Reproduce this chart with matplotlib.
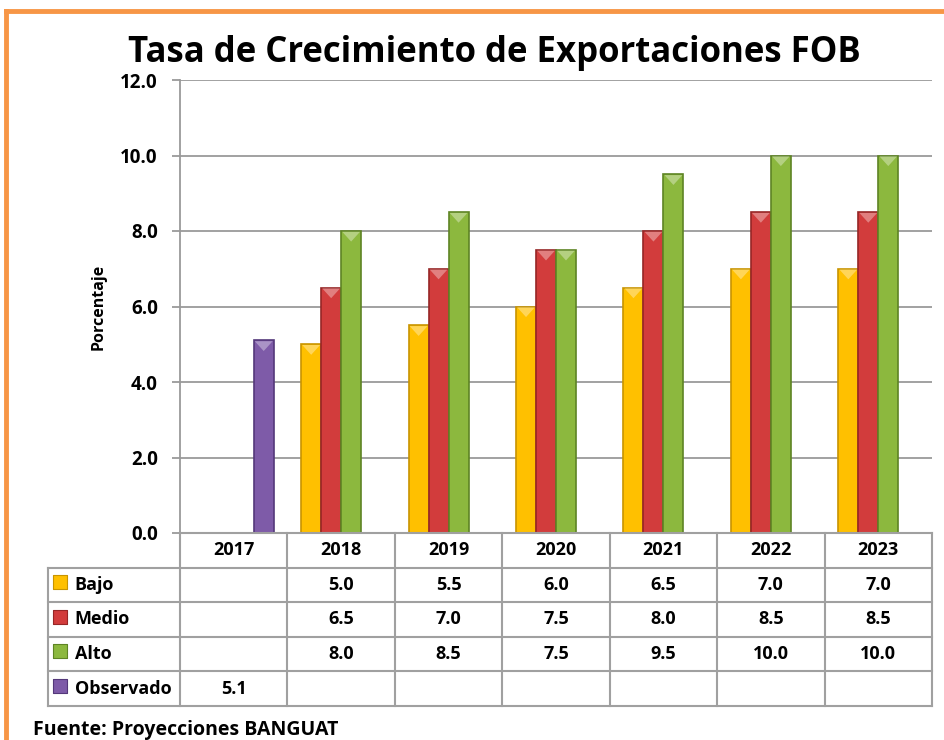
import numpy as np
import matplotlib.pyplot as plt
from matplotlib.lines import Line2D

plt.rcParams['font.family'] = ['Open Sans', 'DejaVu Sans']
plt.rcParams['font.weight'] = 'bold'

years = ["2017", "2018", "2019", "2020", "2021", "2022", "2023"]
series_names = ["Bajo", "Medio", "Alto", "Observado"]
bajo = [np.nan, 5.0, 5.5, 6.0, 6.5, 7.0, 7.0]
medio = [np.nan, 6.5, 7.0, 7.5, 8.0, 8.5, 8.5]
alto = [np.nan, 8.0, 8.5, 7.5, 9.5, 10.0, 10.0]
observado = [5.1, np.nan, np.nan, np.nan, np.nan, np.nan, np.nan]
series = [bajo, medio, alto, observado]
colors = ["#FFC000", "#D23C3C", "#8CB83E", "#7E5BA8"]
edges = ["#C89400", "#962626", "#5E8424", "#54387A"]

W, H = 944, 740
fig = plt.figure(figsize=(W / 100, H / 100), dpi=100)

# orange frame
fig.add_artist(Line2D([6 / W, 6 / W], [0, 1 - 11 / H], color="#F79646", lw=3.5))
fig.add_artist(Line2D([6 / W, 1], [1 - 11 / H, 1 - 11 / H], color="#F79646", lw=3.5))

x0, x1 = 180, 932
yt, yb = 80, 533
ax = fig.add_axes([x0 / W, 1 - yb / H, (x1 - x0) / W, (yb - yt) / H])

x = np.arange(len(years))
w = 0.186
for i, (vals, c, e) in enumerate(zip(series, colors, edges)):
    off = (i - 1.5) * w
    ax.bar(x + off, vals, width=w, color=c, edgecolor=e, linewidth=1.2, zorder=3)
    # light bevel on top of each bar
    for xi, v in zip(x, vals):
        if not np.isnan(v):
            ax.fill([xi + off - w / 2 + 0.01, xi + off + w / 2 - 0.01, xi + off],
                    [v - 0.02, v - 0.02, v - 0.28], color="white", alpha=0.35,
                    lw=0, zorder=4)

ax.set_xlim(-0.5, 6.5)
ax.set_ylim(0, 12)
ax.set_yticks(np.arange(0, 12.1, 2))
ax.set_yticklabels([f"{v:.1f}" for v in np.arange(0, 12.1, 2)], fontsize=13.5,
                   fontweight="bold")
ax.set_xticks([])
ax.grid(axis="y", color="#9A9A9A", lw=1.3, zorder=0)
for s in ["top", "right"]:
    ax.spines[s].set_visible(False)
ax.spines["left"].set_color("#9A9A9A")
ax.spines["bottom"].set_color("#9A9A9A")
ax.spines["left"].set_linewidth(1.3)
ax.spines["bottom"].set_linewidth(1.3)
ax.tick_params(axis="y", length=6, color="#9A9A9A", width=1.3, pad=10)
ax.set_ylabel("Porcentaje", fontsize=11.5, fontweight="bold")
ax.yaxis.set_label_coords(-0.098, 0.5)

fig.text(494 / W, 1 - 53 / H, "Tasa de Crecimiento de Exportaciones FOB",
         ha="center", va="center", fontsize=25, fontweight="bold")

# data table under the chart
tl = 48
ytab = 706
tax = fig.add_axes([tl / W, 1 - ytab / H, (x1 - tl) / W, (ytab - yb) / H])
lab_w = (x0 - tl) / ((x1 - x0) / len(years))
tax.set_xlim(-0.5 - lab_w, 6.5)
tax.set_ylim(0, 5)
tax.axis("off")
gc = "#A0A0A0"
# horizontal lines
tax.plot([-0.5, 6.5], [5, 5], color=gc, lw=1.5, clip_on=False)
for r in range(0, 5):
    tax.plot([-0.5 - lab_w, 6.5], [r, r], color=gc, lw=1.5, clip_on=False)
# vertical lines
for c in range(len(years) + 1):
    tax.plot([c - 0.5, c - 0.5], [0, 5], color=gc, lw=1.5, clip_on=False)
tax.plot([-0.5 - lab_w] * 2, [0, 4], color=gc, lw=1.5, clip_on=False)

for j, yr in enumerate(years):
    tax.text(j, 4.5, yr, ha="center", va="center", fontsize=13, fontweight="bold")
for r, (name, vals, c, e) in enumerate(zip(series_names, series, colors, edges)):
    yc = 3.5 - r
    tax.scatter([-0.5 - lab_w + 0.115], [yc + 0.08], marker="s", s=95, color=c,
                edgecolor=e, linewidth=0.8, clip_on=False)
    tax.text(-0.5 - lab_w + 0.25, yc, name, ha="left", va="center", fontsize=13,
             fontweight="bold")
    for j, v in enumerate(vals):
        if not np.isnan(v):
            tax.text(j, yc, f"{v:.1f}", ha="center", va="center", fontsize=13,
                     fontweight="bold")

fig.text(33 / W, 1 - 730 / H, "Fuente: Proyecciones BANGUAT", ha="left",
         va="center", fontsize=14, fontweight="bold")

fig.savefig("out.png", dpi=100)
